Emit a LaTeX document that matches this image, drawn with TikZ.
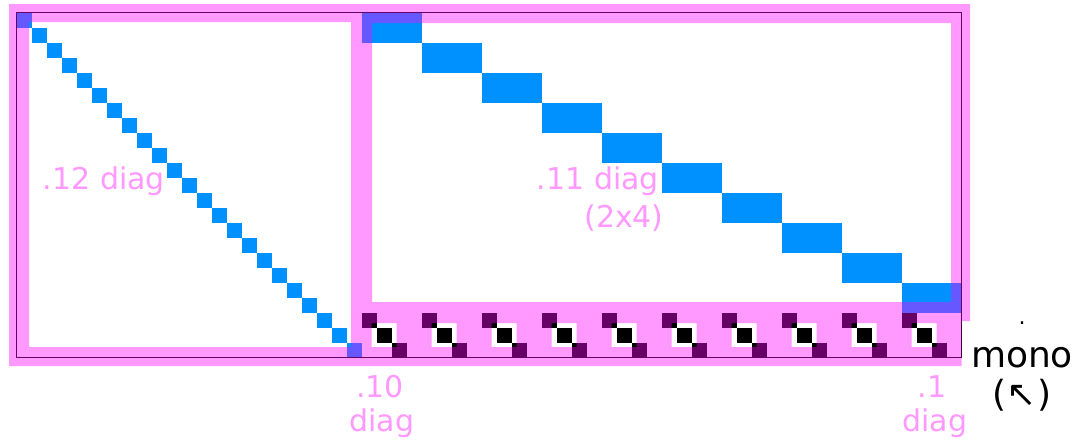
\documentclass[tikz,border=0pt]{standalone}
\usepackage{fontspec}
\setmainfont{DejaVu Sans}
\definecolor{cellblue}{RGB}{0,145,255}
\definecolor{hlmag}{RGB}{255,0,255}
\definecolor{labpink}{RGB}{255,153,255}
\begin{document}
\begin{tikzpicture}[x=1pt,y=-1pt,
  cell/.style={fill=cellblue},
  monocell/.style={fill=black},
  hl/.style={fill=hlmag, fill opacity=0.4},
  frame/.style={draw=black, line width=1.6pt},
  lab/.style={text=labpink, font=\fontsize{30}{36}\selectfont, inner sep=0pt, anchor=base},
  side/.style={text=black, font=\fontsize{36}{40}\selectfont, inner sep=0pt, anchor=base}]
\useasboundingbox[fill=white] (0,0) rectangle (1076,442);
% left block: 23 diagonal cells
\foreach \i in {0,...,22} \fill[cell] ({16.5+15*\i},{12.5+15*\i}) rectangle ++(15,15);
% right block: ten 2x4 diagonal blocks
\foreach \k in {0,...,9} \fill[cell] ({361.5+60*\k},{12.5+30*\k}) rectangle ++(60,30);
% mono row glyphs
\foreach \k in {0,...,9} {
  \fill[monocell] ({361.5+60*\k},312.5) rectangle ++(15,15);
  \fill[monocell] ({376.5+60*\k},327.5) rectangle ++(15,15);
  \fill[monocell] ({391.5+60*\k},342.5) rectangle ++(15,15);
}
% outer frame
\draw[frame] (16.5,12.5) rectangle (961.5,357.5);
% highlight overlay (union, nonzero rule)
\fill[hl] (9,4) rectangle (371,366) (29,347) rectangle (351,22)
  (353,4) rectangle (970,321) (372,302) rectangle (951,23)
  (361.5,312.5) rectangle (961.5,366)
  \foreach \k in {0,...,9} { ({371.5+60*\k},347) rectangle ({396.5+60*\k},323) };
% labels
\node[lab] (l12) at (104,189) {.12 diag};
\node[lab] (l11) at (598,189) {.11 diag};
\node[lab] (l11b) at (624,227) {(2x4)};
\node[lab] (l10) at (380,397) {.10};
\node[lab] (l10b) at (382,431) {diag};
\node[lab] (l1) at (932,397) {.1};
\node[lab] (l1b) at (935,431) {diag};
\node[side, font=\fontsize{22}{26}\selectfont] (dot) at (1022,324.5) {.};
\node[side] (mono) at (1022,367) {mono};
\node[side] (arr) at (1022,406) {(↖)};
\end{tikzpicture}
\end{document}
